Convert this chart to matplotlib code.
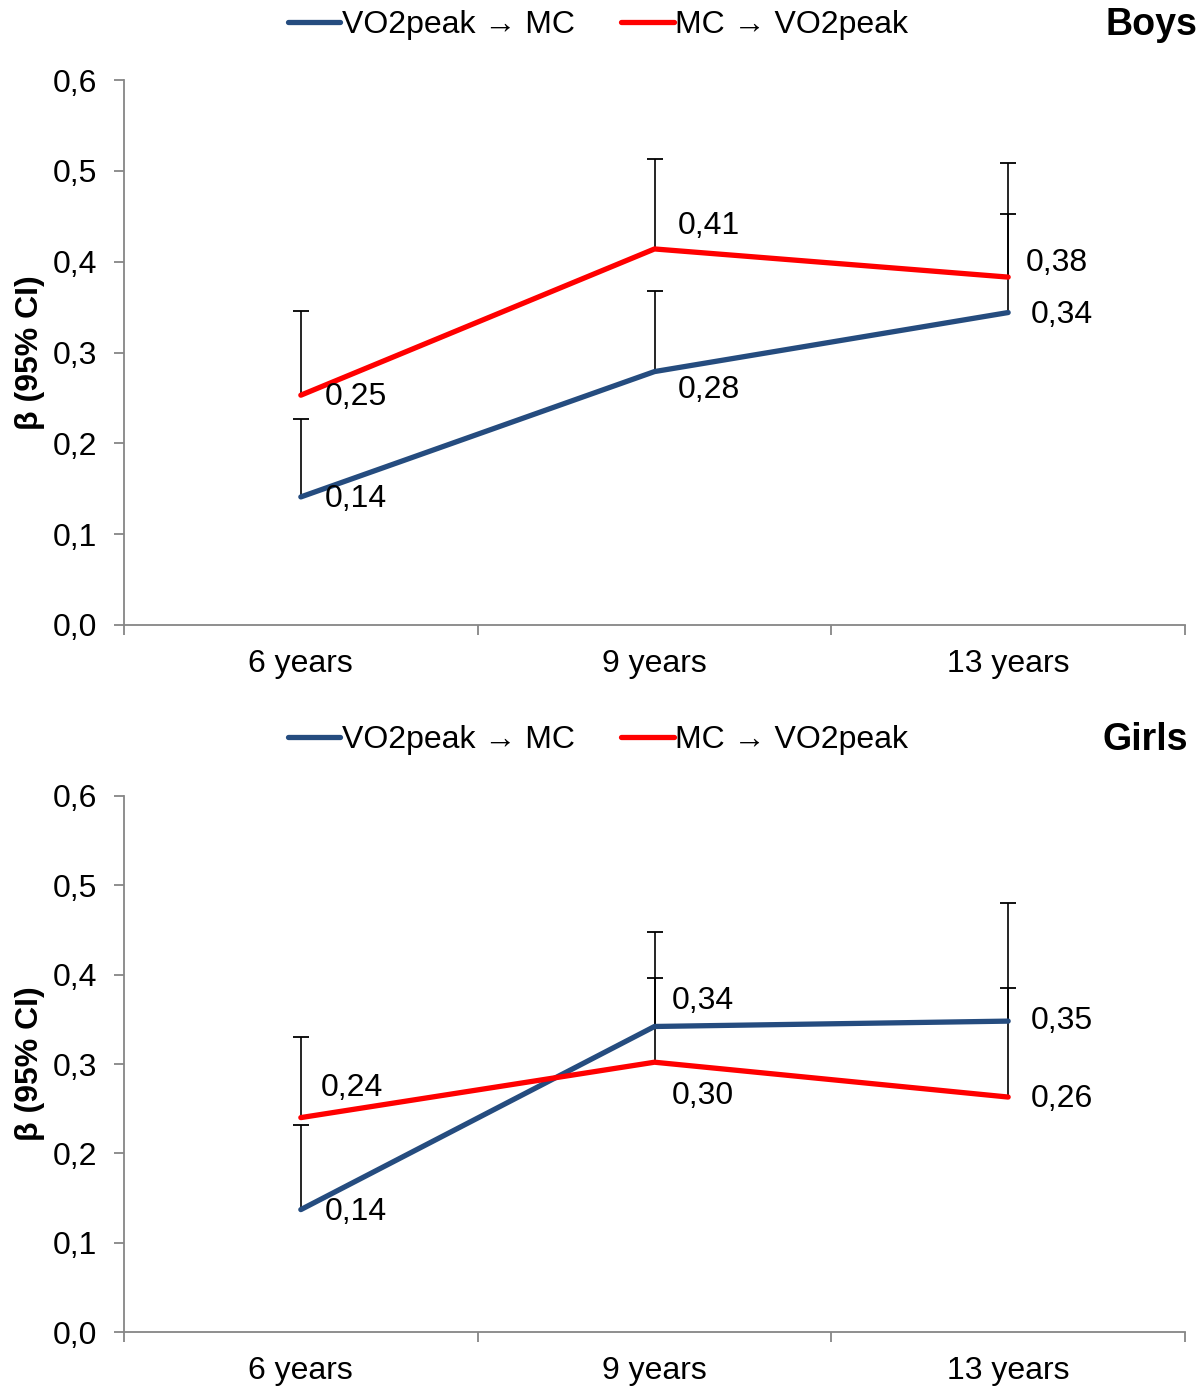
import matplotlib
matplotlib.use('Agg')
from matplotlib import pyplot as plt
from matplotlib.ticker import FuncFormatter

plt.rcParams['font.family'] = ['Liberation Sans', 'DejaVu Sans']

# 数据
categories = ['6 years', '9 years', '13 years']
series_names = ['VO2peak → MC', 'MC → VO2peak']

boys_vo2_mc = [0.141, 0.279, 0.344]
boys_vo2_mc_upper = [0.227, 0.368, 0.452]
boys_mc_vo2 = [0.253, 0.414, 0.383]
boys_mc_vo2_upper = [0.346, 0.513, 0.509]

girls_vo2_mc = [0.137, 0.342, 0.348]
girls_vo2_mc_upper = [0.232, 0.396, 0.385]
girls_mc_vo2 = [0.240, 0.302, 0.263]
girls_mc_vo2_upper = [0.330, 0.448, 0.480]

BLUE = '#254C7F'
RED = '#FF0000'
GREY = '#868686'
FS = 23

W, H = 1204, 1390
fig = plt.figure(figsize=(W / 100, H / 100), dpi=100)


def fmt(v):
    return f'{v:.2f}'.replace('.', ',')


def draw_panel(rect, title, title_x, top_px, blue, blue_up, red, red_up, blue_off, red_off):
    ax = fig.add_axes(rect)
    x = list(range(len(categories)))

    # 误差线（只画上半部分）
    for vals, ups in ((blue, blue_up), (red, red_up)):
        ax.vlines(x, vals, ups, color='black', lw=1.2, zorder=2)
        ax.plot(x, ups, ls='none', marker='_', ms=12, mew=1.3, color='black', zorder=2)

    ax.plot(x, blue, color=BLUE, lw=3.8, label=series_names[0], zorder=3, solid_capstyle='round')
    ax.plot(x, red, color=RED, lw=3.8, label=series_names[1], zorder=3, solid_capstyle='round')

    # 数据标签
    for xi, v, off in zip(x, blue, blue_off):
        ax.annotate(fmt(v), (xi, v), xytext=off, textcoords='offset pixels',
                    ha='left', va='center', fontsize=FS)
    for xi, v, off in zip(x, red, red_off):
        ax.annotate(fmt(v), (xi, v), xytext=off, textcoords='offset pixels',
                    ha='left', va='center', fontsize=FS)

    ax.set_xlim(-0.5, 2.5)
    ax.set_ylim(0, 0.6)
    ax.set_yticks([0, 0.1, 0.2, 0.3, 0.4, 0.5, 0.6])
    ax.yaxis.set_major_formatter(FuncFormatter(lambda v, p: f'{v:.1f}'.replace('.', ',')))
    ax.set_xticks([-0.5, 0.5, 1.5, 2.5])
    ax.set_xticklabels([])
    ax.set_xticks(x, minor=True)
    ax.set_xticklabels(categories, minor=True, fontsize=FS)
    ax.tick_params(axis='x', which='minor', length=0, pad=17)
    ax.tick_params(axis='x', which='major', length=7, width=1.3, color=GREY, direction='out')
    ax.tick_params(axis='y', length=7, width=1.3, color=GREY, labelsize=FS, pad=12)
    for s in ('top', 'right'):
        ax.spines[s].set_visible(False)
    for s in ('left', 'bottom'):
        ax.spines[s].set_color(GREY)
        ax.spines[s].set_linewidth(1.3)

    ax.legend(loc='center', bbox_to_anchor=(598 / W, 1 - top_px / H), bbox_transform=fig.transFigure,
              ncol=2, frameon=False, fontsize=FS, handlelength=1.65, handletextpad=0.05,
              columnspacing=1.45)
    fig.text(title_x / W, 1 - top_px / H, title, ha='right', va='center',
             fontsize=27, fontweight='bold')
    cy = rect[1] + rect[3] / 2
    fig.text(30 / W, cy, 'β (95% CI)', rotation=90, ha='center', va='center',
             fontsize=FS, fontweight='bold')
    return ax


draw_panel([124 / W, 1 - 625 / H, (1185 - 124) / W, (625 - 80) / H], 'Boys', 1197, 25,
           boys_vo2_mc, boys_vo2_mc_upper, boys_mc_vo2, boys_mc_vo2_upper,
           [(24, -2), (23, -18), (23, -2)], [(24, -2), (23, 23), (18, 14)])

draw_panel([124 / W, 1 - 1332 / H, (1185 - 124) / W, (1332 - 796) / H], 'Girls', 1188, 740,
           girls_vo2_mc, girls_vo2_mc_upper, girls_mc_vo2, girls_mc_vo2_upper,
           [(24, -2), (17, 25), (23, 0)], [(20, 30), (17, -34), (23, -2)])

fig.savefig('out.png', dpi=100)
